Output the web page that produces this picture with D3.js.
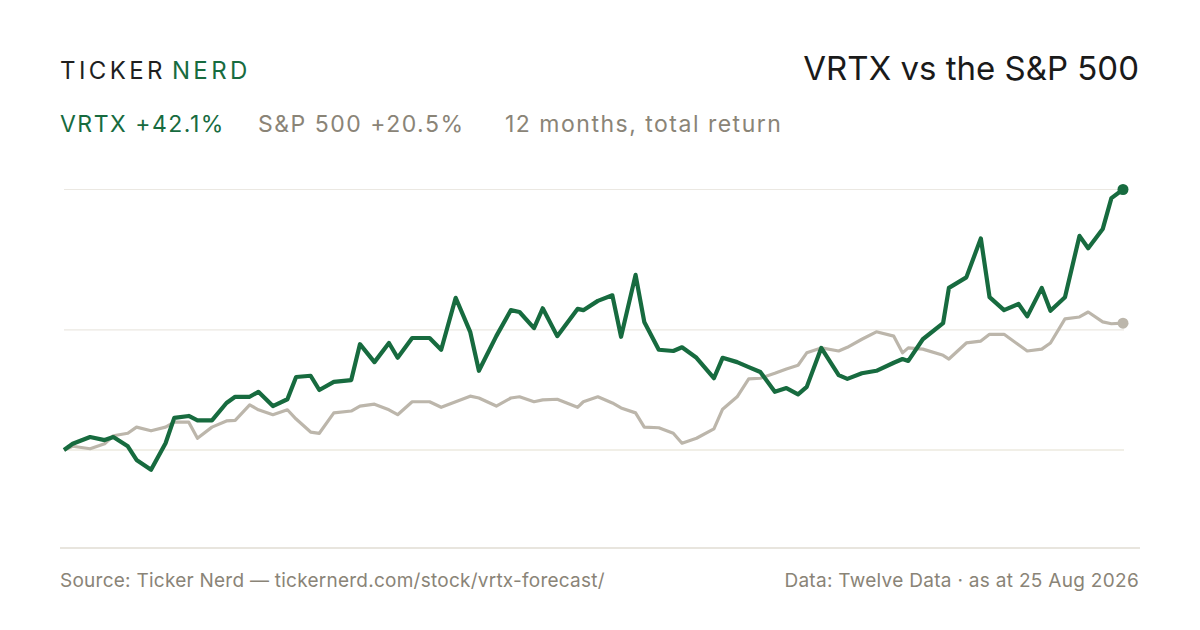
<!DOCTYPE html>
<html lang="en">
<head>
<meta charset="utf-8">
<title>VRTX vs the S&amp;P 500</title>
<script src="https://cdn.jsdelivr.net/npm/d3@7"></script>
<style>
  body { margin: 0; background: #ffffff; }
  svg text { font-family: Inter, "Liberation Sans", Arial, sans-serif; }
</style>
</head>
<body>
<script>
// days since start of the 12-month window
var days = [0, 3, 9, 14, 17, 22, 25, 30, 35, 38, 43, 46, 51, 56, 59, 64, 67, 72, 77, 80,
  85, 88, 93, 99, 102, 107, 112, 115, 120, 126, 130, 135, 140, 143, 149, 154, 157, 162, 165, 170,
  177, 179, 184, 189, 192, 197, 200, 205, 210, 213, 218, 224, 227, 232, 236, 240, 245, 249, 253, 256,
  261, 267, 270, 275, 280, 286, 289, 291, 296, 303, 305, 311, 316, 319, 324, 329, 332, 337, 340, 345,
  350, 353, 358, 361, 365];

// cumulative total return, %
var vrtx = [0.0, 1.0, 2.1, 1.6, 2.1, 0.6, -1.6, -3.2, 1.1, 5.2, 5.5, 4.8, 4.8, 7.6, 8.6, 8.6, 9.4, 7.1, 8.2, 11.8,
  12.0, 9.7, 11.0, 11.3, 17.1, 14.2, 17.3, 14.9, 18.1, 18.1, 16.2, 24.6, 19.1, 12.8, 18.4, 22.6, 22.3, 19.7, 22.9, 18.4,
  22.8, 22.6, 24.1, 25.0, 18.3, 28.3, 20.7, 16.2, 16.0, 16.6, 14.9, 11.6, 14.9, 14.2, 13.4, 12.6, 9.4, 10.0, 9.0, 10.2,
  16.5, 12.1, 11.5, 12.4, 12.8, 14.1, 14.7, 14.4, 17.9, 20.5, 26.2, 27.9, 34.2, 24.7, 22.6, 23.6, 21.6, 26.2, 22.5, 24.7,
  34.6, 32.6, 35.7, 40.7, 42.1];

var spx = [0.0, 0.6, 0.2, 1.0, 2.3, 2.7, 3.7, 3.1, 3.7, 4.5, 4.5, 1.9, 3.7, 4.7, 4.8, 7.3, 6.5, 5.7, 6.5, 5.0,
  2.9, 2.7, 6.0, 6.3, 7.1, 7.4, 6.5, 5.7, 7.8, 7.8, 6.9, 7.8, 8.7, 8.4, 7.1, 8.4, 8.6, 7.8, 8.1, 8.2,
  6.9, 7.8, 8.6, 7.6, 6.8, 6.0, 3.7, 3.6, 2.7, 1.1, 1.9, 3.4, 6.6, 8.6, 11.5, 11.6, 12.4, 13.1, 13.7, 15.7,
  16.5, 16.0, 16.6, 17.9, 19.1, 18.4, 15.7, 16.5, 16.3, 15.3, 14.7, 17.3, 17.6, 18.7, 18.7, 17.0, 16.0, 16.3, 17.3, 21.2,
  21.5, 22.3, 20.7, 20.4, 20.5];

var gridValues = [0, 19.4, 42.1];

var green = "#176b3f";
var grey = "#bcb6ab";
var textGrey = "#8a8477";

var w = 1200, h = 630;

var svg = d3.select("body").append("svg")
  .attr("width", w)
  .attr("height", h);

var x = d3.scaleLinear().domain([0, 365]).range([64, 1123]);
var y = d3.scaleLinear().domain([0, 42.1]).range([450, 189.5]);

// header
var brand = svg.append("text")
  .attr("x", 60).attr("y", 79)
  .attr("font-size", 24)
  .attr("letter-spacing", 3.4);
brand.append("tspan").attr("fill", "#1f1f1f").text("TICKER");
brand.append("tspan").attr("fill", green).attr("dx", 6).text("NERD");

svg.append("text")
  .attr("x", 1139).attr("y", 80)
  .attr("text-anchor", "end")
  .attr("font-size", 33)
  .attr("fill", "#1a1a1a")
  .text("VRTX vs the S&P 500");

function subtitle(txt, xPos, colour) {
  svg.append("text")
    .attr("x", xPos).attr("y", 132)
    .attr("font-size", 23)
    .attr("letter-spacing", 1.5)
    .attr("fill", colour)
    .text(txt);
}
subtitle("VRTX +42.1%", 60, green);
subtitle("S&P 500 +20.5%", 258, textGrey);
subtitle("12 months, total return", 505, textGrey);

// gridlines
svg.selectAll("line.grid")
  .data(gridValues)
  .enter()
  .append("line")
  .attr("class", "grid")
  .attr("x1", 64).attr("x2", 1124)
  .attr("y1", function(d) { return y(d); })
  .attr("y2", function(d) { return y(d); })
  .attr("stroke", function(d) { return d === 0 ? "#e3e0d0" : "#ebe8e2"; })
  .attr("stroke-width", 1.2);

// lines
var line = d3.line()
  .x(function(d, i) { return x(days[i]); })
  .y(function(d) { return y(d); });

svg.append("path")
  .datum(spx)
  .attr("d", line)
  .attr("fill", "none")
  .attr("stroke", grey)
  .attr("stroke-width", 3.2)
  .attr("stroke-linejoin", "round");

svg.append("path")
  .datum(vrtx)
  .attr("d", line)
  .attr("fill", "none")
  .attr("stroke", green)
  .attr("stroke-width", 4.2)
  .attr("stroke-linejoin", "round");

// end dots
var last = days.length - 1;
svg.append("circle")
  .attr("cx", x(days[last])).attr("cy", y(spx[last]))
  .attr("r", 5.5).attr("fill", grey);
svg.append("circle")
  .attr("cx", x(days[last])).attr("cy", y(vrtx[last]))
  .attr("r", 5.5).attr("fill", green);

// footer
svg.append("line")
  .attr("x1", 60).attr("x2", 1140)
  .attr("y1", 548).attr("y2", 548)
  .attr("stroke", "#e0ddd3")
  .attr("stroke-width", 1.5);

svg.append("text")
  .attr("x", 60).attr("y", 587)
  .attr("font-size", 19)
  .attr("letter-spacing", 0.25)
  .attr("fill", textGrey)
  .text("Source: Ticker Nerd \u2014 tickernerd.com/stock/vrtx-forecast/");

svg.append("text")
  .attr("x", 1139).attr("y", 587)
  .attr("text-anchor", "end")
  .attr("font-size", 19)
  .attr("letter-spacing", 0.3)
  .attr("fill", textGrey)
  .text("Data: Twelve Data \u00b7 as at 25 Aug 2026");
</script>
</body>
</html>
